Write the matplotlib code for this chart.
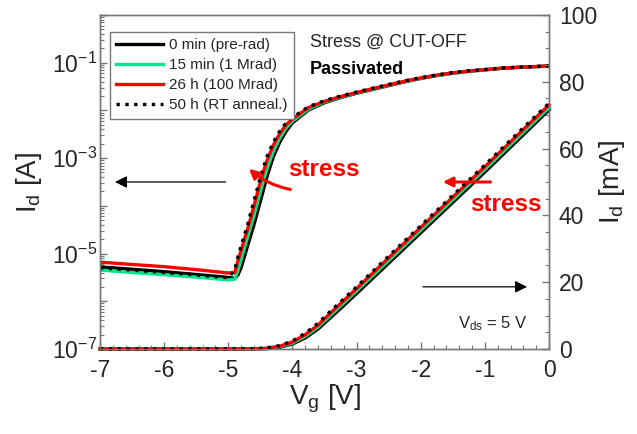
import matplotlib.pyplot as plt
import matplotlib.ticker as mticker
import numpy as np

plt.rcParams['font.family'] = ['Liberation Sans', 'DejaVu Sans']
plt.rcParams['mathtext.fontset'] = 'custom'
plt.rcParams['mathtext.rm'] = 'Liberation Sans'
plt.rcParams['mathtext.default'] = 'regular'

# transfer curves, log scale (A)
vg_log = [-7.0, -6.5, -6.0, -5.5, -5.0, -4.9, -4.85, -4.8, -4.75, -4.7, -4.6, -4.5, -4.4,
          -4.3, -4.2, -4.1, -4.0, -3.75, -3.5, -3.25, -3.0, -2.75, -2.5, -2.25, -2.0,
          -1.75, -1.5, -1.25, -1.0, -0.75, -0.5, -0.25, 0.0]
id_log_0min = [5.25e-6, 4.68e-6, 4.17e-6, 3.63e-6, 3.16e-6, 3.02e-6, 3.55e-6, 5.1e-6, 8.5e-6,
               1.45e-5, 4.0e-5, 1.26e-4, 4.0e-4, 1.05e-3, 2.14e-3, 3.63e-3, 5.5e-3, 1.02e-2,
               1.45e-2, 1.86e-2, 2.29e-2, 2.75e-2, 3.31e-2, 3.98e-2, 4.68e-2,
               5.37e-2, 6.03e-2, 6.61e-2, 7.08e-2, 7.59e-2, 7.94e-2, 8.22e-2, 8.51e-2]
id_log_15min = [4.5e-6, 4.0e-6, 3.6e-6, 3.2e-6, 2.8e-6, 2.9e-6, 4.5e-6, 7.5e-6, 1.3e-5,
                2.2e-5, 6.3e-5, 2.0e-4, 5.9e-4, 1.38e-3, 2.63e-3, 4.3e-3, 6.0e-3, 1.07e-2,
                1.5e-2, 1.9e-2, 2.34e-2, 2.8e-2, 3.37e-2, 4.04e-2, 4.74e-2,
                5.43e-2, 6.08e-2, 6.65e-2, 7.12e-2, 7.62e-2, 7.97e-2, 8.25e-2, 8.53e-2]
id_log_26h = [6.6e-6, 5.9e-6, 5.3e-6, 4.6e-6, 3.9e-6, 4.0e-6, 7.1e-6, 1.17e-5, 2.0e-5,
              3.2e-5, 1.0e-4, 3.2e-4, 8.7e-4, 1.86e-3, 3.24e-3, 5.0e-3, 6.6e-3, 1.15e-2,
              1.55e-2, 1.95e-2, 2.38e-2, 2.86e-2, 3.43e-2, 4.1e-2, 4.8e-2,
              5.5e-2, 6.14e-2, 6.7e-2, 7.17e-2, 7.67e-2, 8.01e-2, 8.28e-2, 8.55e-2]
id_log_50h = [5.0e-6, 4.5e-6, 4.0e-6, 3.55e-6, 3.1e-6, 4.5e-6, 8.5e-6, 1.45e-5, 2.4e-5,
              4.0e-5, 1.26e-4, 4.0e-4, 1.05e-3, 2.14e-3, 3.63e-3, 5.5e-3, 7.1e-3, 1.2e-2,
              1.6e-2, 2.0e-2, 2.43e-2, 2.92e-2, 3.5e-2, 4.17e-2, 4.87e-2,
              5.56e-2, 6.2e-2, 6.76e-2, 7.22e-2, 7.7e-2, 8.04e-2, 8.31e-2, 8.58e-2]

# transfer curves, linear scale (mA)
vg_lin = [-7.0, -5.0, -4.6, -4.4, -4.2, -4.0, -3.8, -3.6, -3.4, -3.2, -3.0,
          -2.5, -2.0, -1.5, -1.0, -0.5, 0.0]
id_lin_0min = [0, 0, 0, 0.1, 0.5, 1.5, 3.3, 6.0, 9.5, 13.0, 16.6, 25.7, 34.8, 43.9, 53.0, 62.3, 71.6]
id_lin_15min = [0, 0, 0, 0.15, 0.65, 1.8, 3.8, 6.6, 10.2, 13.8, 17.4, 26.5, 35.6, 44.7, 53.8, 63.1, 72.3]
id_lin_26h = [0, 0, 0.02, 0.2, 0.8, 2.1, 4.3, 7.2, 10.9, 14.5, 18.1, 27.3, 36.4, 45.5, 54.6, 63.9, 73.1]
id_lin_50h = [0, 0, 0.05, 0.3, 1.0, 2.4, 4.7, 7.7, 11.4, 15.0, 18.6, 27.8, 36.9, 46.0, 55.1, 64.4, 73.6]

labels = ['0 min (pre-rad)', '15 min (1 Mrad)', '26 h (100 Mrad)', '50 h (RT anneal.)']
colors = ['black', '#00e68c', '#ff0000', 'black']
styles = ['-', '-', '-', ':']

grey = '#777777'
txt = '#262626'

fig = plt.figure(figsize=(6.37, 4.34), dpi=100)
ax = fig.add_axes([0.157, 0.196, 0.705, 0.7694])
ax2 = ax.twinx()

log_sets = [id_log_0min, id_log_15min, id_log_26h, id_log_50h]
lin_sets = [id_lin_0min, id_lin_15min, id_lin_26h, id_lin_50h]
handles = []
for ylog, ylin, c, ls, lab in zip(log_sets, lin_sets, colors, styles, labels):
    h, = ax.plot(vg_log, ylog, color=c, ls=ls, lw=2.4, label=lab)
    ax2.plot(vg_lin, ylin, color=c, ls=ls, lw=2.4, clip_on=False)
    handles.append(h)

ax.set_yscale('log')
ax.set_xlim(-7, 0)
ax.set_ylim(1e-7, 1)
ax2.set_ylim(0, 100)

ax.yaxis.set_major_locator(mticker.LogLocator(base=10, numticks=10))
ax.yaxis.set_minor_locator(mticker.LogLocator(base=10, subs=np.arange(2, 10), numticks=20))


def odd_decades(v, pos):
    e = int(round(np.log10(v)))
    return r'$10^{%d}$' % e if e % 2 else ''


ax.yaxis.set_major_formatter(mticker.FuncFormatter(odd_decades))
ax.yaxis.set_minor_formatter(mticker.NullFormatter())
ax.xaxis.set_major_locator(mticker.MultipleLocator(1))
ax.xaxis.set_minor_locator(mticker.MultipleLocator(0.2))
ax.xaxis.set_major_formatter(mticker.FuncFormatter(lambda v, p: '%d' % round(v)))
ax2.yaxis.set_major_locator(mticker.MultipleLocator(20))
ax2.yaxis.set_minor_locator(mticker.MultipleLocator(5))

for a in (ax, ax2):
    a.tick_params(which='both', direction='in', colors=grey, labelcolor=txt, labelsize=16.5)
    a.tick_params(which='major', length=5, width=1)
    a.tick_params(which='minor', length=3, width=0.8)
    for s in a.spines.values():
        s.set_color(grey)
        s.set_linewidth(1)
ax.tick_params(axis='y', which='both', right=False, pad=2)
ax.tick_params(axis='x', which='both', top=False, pad=7)
ax2.tick_params(axis='y', which='both', pad=7)

ax.set_xlabel('V$_g$ [V]', fontsize=20, color=txt, labelpad=1)
ax.set_ylabel('I$_d$ [A]', fontsize=20, color=txt, labelpad=6)
ax2.set_ylabel('I$_d$ [mA]', fontsize=20, color=txt, labelpad=0)

leg = ax2.legend(handles=handles, loc='upper left', bbox_to_anchor=(0.022, 0.949),
                 fontsize=11, handlelength=3.1, handletextpad=0.4, labelspacing=0.4,
                 borderpad=0.4, borderaxespad=0, fancybox=False, framealpha=1)
leg.get_frame().set_edgecolor(grey)
leg.get_frame().set_linewidth(1)
for t in leg.get_texts():
    t.set_color(txt)

ax2.text(-3.73, 91.9, 'Stress @ CUT-OFF', fontsize=13, color=txt, va='center')
ax2.text(-3.73, 83.8, 'Passivated', fontsize=13, fontweight='bold', color='black', va='center')
ax2.text(-0.33, 6.3, 'V$_{ds}$ = 5 V', fontsize=12, color=txt, ha='right', va='baseline')

# direction arrows for the two axes
ax2.annotate('', xy=(-6.81, 50.0), xytext=(-5.0, 50.0),
             arrowprops=dict(arrowstyle='-|>', color='black', lw=0.9, mutation_scale=18))
ax2.annotate('', xy=(-0.30, 18.6), xytext=(-2.01, 18.6),
             arrowprops=dict(arrowstyle='-|>', color='black', lw=0.9, mutation_scale=18))

# stress shift markers
ax2.annotate('', xy=(-4.71, 54.5), xytext=(-3.99, 47.6),
             arrowprops=dict(arrowstyle='-|>', color='red', lw=2.2, mutation_scale=14,
                             connectionstyle='arc3,rad=-0.15'))
ax2.annotate('', xy=(-1.70, 50.0), xytext=(-0.87, 50.0),
             arrowprops=dict(arrowstyle='-|>', color='red', lw=2.2, mutation_scale=14))
ax2.text(-4.07, 53.6, 'stress', fontsize=17.5, fontweight='bold', color='red', va='center')
ax2.text(-1.23, 43.4, 'stress', fontsize=17.5, fontweight='bold', color='red', va='center')

fig.savefig('out.png', dpi=100)
